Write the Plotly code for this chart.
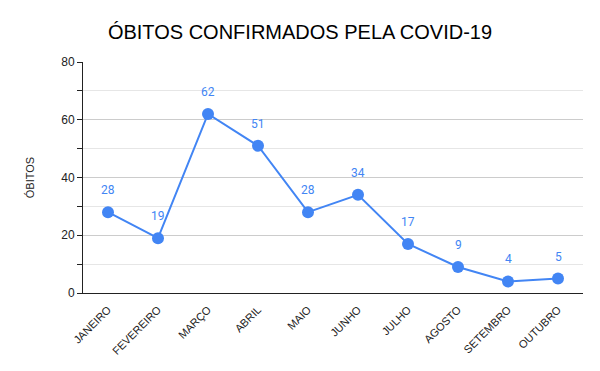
import plotly.graph_objects as go

months = ["JANEIRO", "FEVEREIRO", "MARÇO", "ABRIL", "MAIO", "JUNHO",
          "JULHO", "AGOSTO", "SETEMBRO", "OUTUBRO"]
deaths = [28, 19, 62, 51, 28, 34, 17, 9, 4, 5]
y_ticks = [0, 20, 40, 60, 80]

blue = "#4285f4"
fig = go.Figure()
fig.add_trace(go.Scatter(
    x=months, y=deaths, mode="lines+markers",
    line=dict(color=blue, width=2),
    marker=dict(color=blue, size=12),
    hoverinfo="x+y", showlegend=False,
))
for m, d in zip(months, deaths):
    fig.add_annotation(x=m, y=d, text=str(d), showarrow=False, yshift=22,
                       font=dict(family="Roboto, Liberation Sans, Arial", size=12, color=blue))

fig.update_layout(
    width=600, height=371,
    margin=dict(l=83, r=17, t=62, b=78),
    paper_bgcolor="white", plot_bgcolor="white",
    title=dict(text="ÓBITOS CONFIRMADOS PELA COVID-19", x=0.5, xanchor="center",
               y=0.915, yanchor="middle",
               font=dict(family="Liberation Sans, Arial", size=20, color="black")),
    font=dict(family="Liberation Sans, Arial", color="#222"),
)
fig.update_xaxes(
    type="category", range=[-0.5, 9.5], tickangle=-45,
    tickfont=dict(size=11, color="#222"), ticklabelstandoff=5,
    showline=True, linecolor="#222", linewidth=1,
    showgrid=False, ticks="", fixedrange=True, automargin=False,
)
fig.update_yaxes(
    range=[0, 80], tickvals=y_ticks,
    tickfont=dict(size=12, color="#222"),
    showline=True, linecolor="#222", linewidth=1,
    ticks="outside", ticklen=5, tickcolor="#222",
    gridcolor="#cccccc", gridwidth=1,
    minor=dict(dtick=10, showgrid=True, gridcolor="#e6e6e6", ticks="outside",
               ticklen=5, tickcolor="#222"),
    title=dict(text="ÓBITOS", font=dict(size=11, color="#222"), standoff=24),
    zeroline=False, automargin=False,
)
fig.write_html("out.html", config={"displayModeBar": False},
               post_script="document.body.style.margin='0';")
